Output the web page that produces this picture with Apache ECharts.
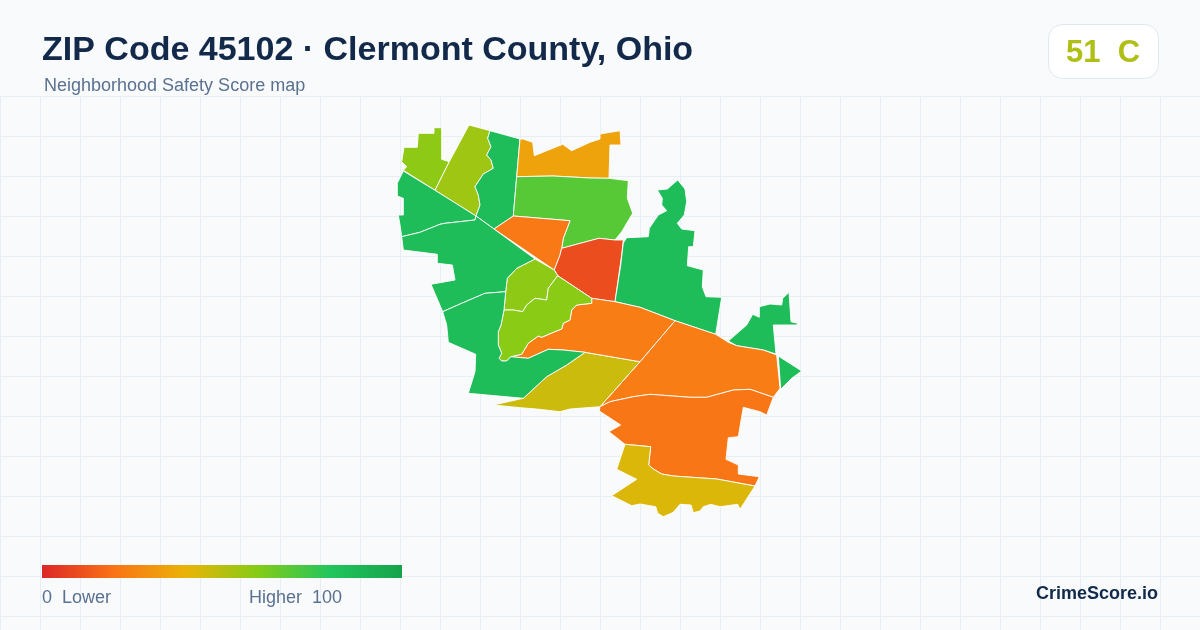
<!DOCTYPE html>
<html>
<head>
<meta charset="utf-8">
<style>html,body{margin:0;padding:0;background:#f8fafc}#c{width:1200px;height:630px}</style>
<script src="https://cdn.jsdelivr.net/npm/echarts@6/dist/echarts.min.js"></script>
</head>
<body>
<div id="c"></div>
<script>
var titleText = 'ZIP Code 45102 · Clermont County, Ohio';
var subtitleText = 'Neighborhood Safety Score map';
var badgeText = '51  C';
var lowLabel = '0  Lower';
var highLabel = 'Higher  100';
var brandText = 'CrimeScore.io';

var scoreStops = ['#dc2626', '#f97316', '#eab308', '#84cc16', '#22c55e', '#16a34a'];

var areaNames = ['A','B','C','D','E','F','G','H','I','J','K','L','M','N','O','P1','P2','Q','R','S'];
var areaScores = [58,55,85,35,69,22,10,85,85,85,23,21,43,46,23,58,59,85,85,85];

/* traced map geometry, one outline per area */
var areaOutlines = [
 [[401.7,161.7],[406.7,166.7],[403.3,170.3],[435,190.3],[449.3,161.7],[441.7,159.3],[441.7,127.7],[434,127.7],[434,133.3],[418.3,133.3],[417.3,147.3],[404,147.3]],
 [[469,125],[490,130.7],[487.7,138.3],[491,146.7],[486.7,155],[491,160],[493.3,168.3],[483.3,174],[475,186.7],[478.3,195],[480,205],[476,216],[435,190.3],[449.3,161.7]],
 [[490,130.7],[520,139],[516.7,176.7],[513.3,216],[494,229],[476,216],[480,205],[478.3,195],[475,186.7],[483.3,174],[493.3,168.3],[491,160],[486.7,155],[491,146.7],[487.7,138.3]],
 [[520,139],[523.3,139],[532.7,142.3],[534.3,155.7],[562.7,144.3],[571.7,150.7],[590,142.3],[600,139],[600,134],[620,130.7],[621,145],[610,145],[609,178.3],[590,178],[553,176],[516.7,176.7]],
 [[516.7,176.7],[553,176],[590,178],[609,178.3],[628.3,180.7],[627.3,198.3],[632.7,213.3],[621.7,231.7],[615,240],[599,238.3],[561.7,248.3],[563.3,238.3],[570,220.7],[513.3,216]],
 [[513.3,216],[570,220.7],[563.3,238.3],[561.7,248.3],[560,255],[554.3,270],[494,229]],
 [[561.7,248.3],[599,238.3],[615,240],[623.3,240],[621.7,255],[615,301.7],[591.7,298.3],[557.7,275.7],[554.3,270],[560,255]],
 [[620.7,265],[623.3,243],[626.7,237.7],[648.3,236.7],[649.3,228.3],[658.3,215],[666.7,210.7],[661.7,205],[662.3,198.3],[657.3,190],[667.3,189],[677.7,180],[685,189],[686.7,201.7],[684.3,215],[677.3,223.3],[681.7,229],[695,230.7],[693.3,246.7],[688.7,246.7],[687.3,265.7],[703.3,270],[702.3,286.7],[706,296.7],[721.7,297.3],[715.7,334.3],[675,320.7],[640,307.3],[615,301.7]],
 [[728.3,341],[746.7,325],[752.7,314.3],[759.3,317.3],[759.3,306.7],[770,304],[781.7,305],[782.7,298.3],[789,292.3],[791,321.7],[797.7,323.3],[796.7,325],[773.3,325],[776,354],[763.3,350],[736.7,345.7]],
 [[778.3,356],[801.7,371],[791.7,378.3],[780.7,389.3]],
 [[675,320.7],[715.7,334.3],[728.3,342.3],[736.7,345.7],[763.3,350],[776.7,355],[780,388.3],[773.3,397.3],[750,389.3],[733.3,390],[706.7,397.3],[690,397.3],[650,394.3],[633.3,396.7],[610,401.7],[600,406.7],[640,361.7]],
 [[773.3,397.3],[766.7,415],[760,411.7],[743.3,407.3],[738.3,436.7],[728.3,437.7],[726,459.3],[738.3,465],[738.3,474],[759.3,476.7],[755,486],[716.7,479],[673.3,476],[661.7,474],[653.3,469],[648.7,465],[650.7,446.7],[625,444.3],[609,431.7],[620.7,425],[599.3,411],[600,406.7],[610,401.7],[633.3,396.7],[650,394.3],[690,397.3],[706.7,397.3],[733.3,390],[750,389.3]],
 [[625,444.3],[650.7,446.7],[648.7,465],[653.3,469],[661.7,474],[673.3,476],[716.7,479],[755,486],[740,509.3],[737.7,504.3],[720,506.7],[710.7,504.3],[703.3,506.7],[700,511],[693.3,512.7],[691,505],[680,504.3],[673.3,512.3],[663.3,516.7],[657.7,513.3],[655.7,506.7],[640,504],[631.7,505.7],[611.7,495.7],[636.7,479.3],[616.7,469.3]],
 [[493.3,405],[523.3,398.3],[546.7,376.7],[566.7,365],[585,352.3],[640,361.7],[600,406.7],[570,409],[560,411.7],[536.7,409],[520,407.7]],
 [[591.7,298.3],[591.7,303.3],[576.7,305],[571.7,310],[570,320],[563.3,323.3],[561.7,329],[553.3,332.3],[541.7,337.3],[538.3,336],[528.3,343.3],[521.7,354.3],[510.7,356.7],[528.3,358.3],[548.3,349.3],[563.3,350],[585,352.3],[640,361.7],[675,320.7],[640,307.3],[615,301.7]],
 [[535,259],[554.3,270],[557.7,275.7],[548.3,288.3],[546.7,300],[535,298.3],[526.7,305],[522.7,311.7],[513.3,310],[504,310],[505.7,291.7],[507.3,278.3],[516.7,268.3]],
 [[557.7,275.7],[591.7,298.3],[591.7,303.3],[576.7,305],[571.7,310],[570,320],[563.3,323.3],[561.7,329],[553.3,332.3],[541.7,337.3],[538.3,336],[528.3,343.3],[521.7,354.3],[510.7,356.7],[506.7,361],[501.7,361],[499,358.3],[501.7,353.3],[498.3,345],[498.3,331.7],[501,325],[504,310],[513.3,310],[522.7,311.7],[526.7,305],[535,298.3],[546.7,300],[548.3,288.3]],
 [[403.3,171],[435,190.3],[476,216],[475,220],[445,223.3],[440,224.3],[420,232.3],[401.7,236.7],[400,225],[398.3,215],[403.3,215],[403.3,198.3],[397.3,196],[397.3,183.3]],
 [[401.7,236.7],[420,232.3],[440,224.3],[445,223.3],[475,220],[476,216],[494,229],[535,259],[516.7,268.3],[507.3,278.3],[505.7,291.7],[485,293.3],[461.7,303.3],[442.7,311.7],[431,284.3],[455,280],[452.3,265],[437.3,263.3],[437.3,254.3],[403.3,250]],
 [[442.7,311.7],[461.7,303.3],[485,293.3],[505.7,291.7],[504,310],[501,325],[498.3,331.7],[498.3,345],[501.7,353.3],[499,358.3],[501.7,361],[506.7,361],[510.7,356.7],[528.3,358.3],[548.3,349.3],[563.3,350],[585,352.3],[566.7,365],[546.7,376.7],[523.3,398.3],[468.3,393.3],[475,371.7],[475.7,354.3],[448.3,342.3],[446.7,325]]
];

var features = areaNames.map(function (n, i) {
  return {
    type: 'Feature', properties: { name: n },
    geometry: { type: 'Polygon', coordinates: [areaOutlines[i].map(function (p) { return [p[0], -p[1]]; })] }
  };
});
echarts.registerMap('zip45102', { type: 'FeatureCollection', features: features });

var gridLines = [];
for (var gx = 0; gx < 1200; gx += 40) {
  gridLines.push({ type: 'line', z: 0, silent: true, shape: { x1: gx + 0.5, y1: 96.5, x2: gx + 0.5, y2: 630 }, style: { stroke: '#e8eff4', lineWidth: 1 } });
}
for (var gy = 96; gy < 630; gy += 40) {
  gridLines.push({ type: 'line', z: 0, silent: true, shape: { x1: 0, y1: gy + 0.5, x2: 1200, y2: gy + 0.5 }, style: { stroke: '#e8eff4', lineWidth: 1 } });
}

var fontFam = '"Liberation Sans", Arial, sans-serif';
function txt(x, y, s, size, weight, color, align) {
  return { type: 'text', z: 10, silent: true, x: x, y: y, style: { text: s, font: weight + ' ' + size + 'px ' + fontFam, fill: color, textAlign: align || 'left', textVerticalAlign: 'middle' } };
}

var legendGradient = new echarts.graphic.LinearGradient(0, 0, 1, 0, scoreStops.map(function (c, i) {
  return { offset: i / (scoreStops.length - 1), color: c };
}));

var chart = echarts.init(document.getElementById('c'), null, { renderer: 'canvas' });
chart.setOption({
  animation: false,
  backgroundColor: '#f8fafc',
  visualMap: {
    type: 'continuous', show: false, min: 0, max: 100,
    inRange: { color: scoreStops }
  },
  series: [{
    type: 'map', map: 'zip45102', silent: true, aspectScale: 1,
    boundingCoords: [[0, 0], [1200, -630]],
    left: 0, top: 0, width: 1200, height: 630,
    roam: false, label: { show: false },
    itemStyle: { borderColor: '#ffffff', borderWidth: 0.9 },
    emphasis: { disabled: true },
    data: areaNames.map(function (n, i) { return { name: n, value: areaScores[i] }; })
  }],
  graphic: gridLines.concat([
    txt(42, 50.5, titleText, 34, 'bold', '#12294a'),
    txt(44, 86.5, subtitleText, 18, 'normal', '#5a7190'),
    { type: 'rect', z: 5, silent: true, shape: { x: 1048.5, y: 24.5, width: 110, height: 54, r: 14 }, style: { fill: '#ffffff', stroke: '#e2e8f0', lineWidth: 1 } },
    txt(1103, 53.5, badgeText, 31, 'bold', '#b0bf15', 'center'),
    { type: 'rect', z: 5, silent: true, shape: { x: 42, y: 565, width: 360, height: 13 }, style: { fill: legendGradient } },
    txt(42, 598.5, lowLabel, 18, 'normal', '#5a7190'),
    txt(342, 598.5, highLabel, 18, 'normal', '#5a7190', 'right'),
    txt(1158, 594.5, brandText, 18, 'bold', '#12294a', 'right')
  ])
});
</script>
</body>
</html>
